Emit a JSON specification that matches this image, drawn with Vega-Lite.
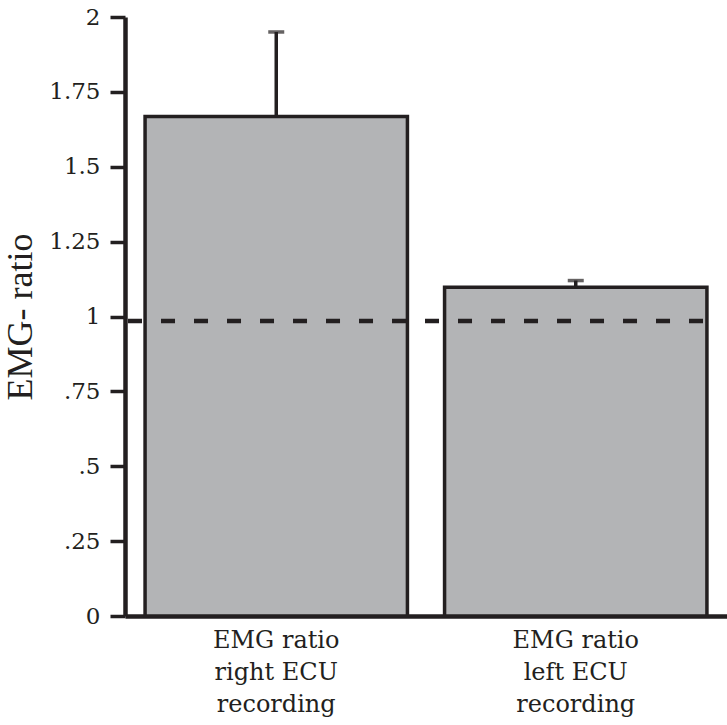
{
  "$schema": "https://vega.github.io/schema/vega-lite/v6.json",
  "width": 602,
  "height": 599,
  "autosize": {"type": "none"},
  "padding": {"left": 125, "top": 17, "right": 0, "bottom": 109},
  "background": "white",
  "config": {
    "view": {"stroke": null},
    "axis": {"grid": false, "domainColor": "#231f20", "tickColor": "#231f20", "labelColor": "#231f20", "titleColor": "#231f20"}
  },
  "datasets": {
    "bars": [
      {"category": "EMG ratio|right ECU|recording", "value": 1.668, "upper": 1.95},
      {"category": "EMG ratio|left ECU|recording", "value": 1.098, "upper": 1.12}
    ],
    "ref": [{"level": 0.985}]
  },
  "data": {"name": "bars"},
  "encoding": {
    "x": {
      "field": "category", "type": "nominal", "sort": null,
      "scale": {"paddingInner": 0.124, "paddingOuter": 0.067},
      "axis": {"title": null, "labelAngle": 0, "ticks": false, "labelPadding": 12, "labelFont": "DejaVu Serif", "labelFontSize": 24, "labelLineHeight": 32, "labelBaseline": "top", "labelExpr": "split(datum.label, '|')", "domainWidth": 4.5, "labelLimit": 300}
    }
  },
  "layer": [
    {
      "mark": {"type": "bar", "fill": "#b3b4b6", "stroke": "#231f20", "strokeWidth": 3.5},
      "encoding": {
        "y": {
          "field": "value", "type": "quantitative",
          "scale": {"domain": [0, 2], "nice": false, "zero": true},
          "axis": {
            "title": "EMG- ratio", "titleFont": "Liberation Serif", "titleFontSize": 36, "titleFontWeight": "normal", "titlePadding": 9,
            "values": [0, 0.25, 0.5, 0.75, 1, 1.25, 1.5, 1.75, 2],
            "labelExpr": "datum.value > 0 && datum.value < 1 ? slice(toString(datum.value), 1) : toString(datum.value)",
            "labelFont": "DejaVu Serif", "labelFontSize": 23, "labelPadding": 10, "tickSize": 15, "tickWidth": 3.5, "domainWidth": 4.5
          }
        }
      }
    },
    {
      "mark": {"type": "rule", "color": "#231f20", "strokeWidth": 3.5},
      "encoding": {
        "y": {"field": "value", "type": "quantitative"},
        "y2": {"field": "upper"}
      }
    },
    {
      "mark": {"type": "tick", "orient": "horizontal", "color": "#231f20", "size": 16, "thickness": 3.5},
      "encoding": {
        "y": {"field": "upper", "type": "quantitative"}
      }
    },
    {
      "data": {"name": "ref"},
      "mark": {"type": "rule", "color": "#231f20", "strokeWidth": 4.5, "strokeDash": [14, 19]},
      "encoding": {
        "x": {"datum": "EMG ratio|right ECU|recording", "type": "nominal", "bandPosition": -0.065},
        "x2": {"datum": "EMG ratio|left ECU|recording", "bandPosition": 1},
        "y": {"field": "level", "type": "quantitative"}
      }
    }
  ]
}
